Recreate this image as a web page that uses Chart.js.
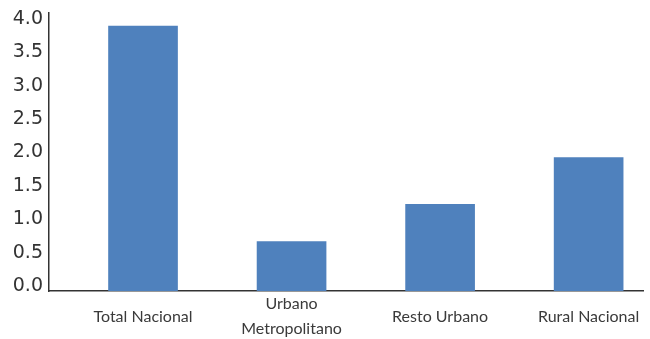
<!DOCTYPE html>
<html>
<head>
<meta charset="utf-8">
<script src="https://cdn.jsdelivr.net/npm/chart.js@4.4.1/dist/chart.umd.min.js"></script>
<style>
  html, body { margin: 0; padding: 0; background: #ffffff; }
  #wrap { width: 650px; height: 339px; position: relative; }
</style>
</head>
<body>
<div id="wrap"><canvas id="c" width="650" height="339"></canvas></div>
<script>
const categories = ["Total Nacional", ["Urbano", "Metropolitano"], "Resto Urbano", "Rural Nacional"];
const values = [3.97, 0.74, 1.30, 2.00];
const yTicks = [0.0, 0.5, 1.0, 1.5, 2.0, 2.5, 3.0, 3.5, 4.0];

const points = values.map((v, i) => ({ x: i, y: v }));

new Chart(document.getElementById('c'), {
  type: 'bar',
  data: {
    datasets: [{
      data: points,
      backgroundColor: '#4F81BD',
      borderWidth: 0,
      barThickness: 69
    }]
  },
  options: {
    responsive: false,
    animation: false,
    layout: { padding: { top: 0, right: 7, left: 0, bottom: 0 } },
    plugins: { legend: { display: false }, tooltip: { enabled: false } },
    scales: {
      x: {
        type: 'linear',
        offset: false,
        min: -0.633,
        max: 3.366,
        grid: { display: false, drawTicks: false, offset: false },
        border: { display: true, color: '#333333', width: 1.5 },
        afterBuildTicks: (s) => { s.ticks = categories.map((c, i) => ({ value: i })); },
        afterFit: (s) => { s.height = 48; s.paddingLeft = 0; s.paddingRight = 0; },
        ticks: {
          autoSkip: false,
          maxRotation: 0,
          crossAlign: 'center',
          padding: 13,
          color: '#3a3a3a',
          font: { family: 'Lato', size: 16, lineHeight: 1.56 },
          callback: (v) => categories[Math.round(v)]
        }
      },
      y: {
        min: 0,
        max: 4.165,
        grid: { display: false, drawTicks: false },
        border: { display: true, color: '#333333', width: 1.5 },
        afterBuildTicks: (s) => { s.ticks = yTicks.map(v => ({ value: v })); },
        afterFit: (s) => { s.width = 49; s.paddingTop = 13; s.paddingBottom = 0; },
        ticks: {
          padding: 6,
          labelOffset: -5,
          color: '#333333',
          font: { family: 'DejaVu Sans', size: 19 },
          callback: (v) => Number(v).toFixed(1)
        }
      }
    }
  }
});
</script>
</body>
</html>
